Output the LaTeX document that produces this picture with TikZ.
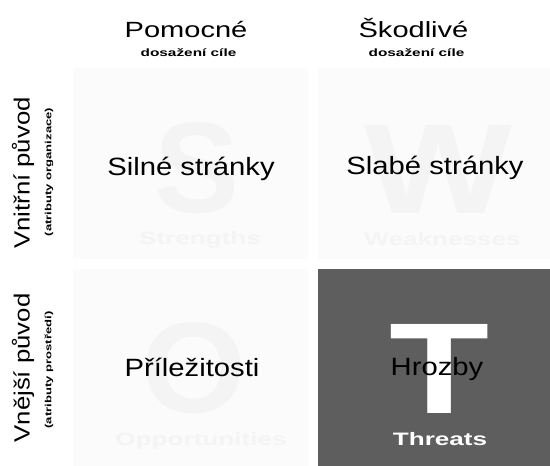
\documentclass[tikz,border=0pt]{standalone}
\usepackage{fontspec}
\usepackage{graphicx}
\setmainfont{Liberation Sans}
\newfontfamily\cellfont[FakeStretch=1.17]{Liberation Sans}
\newfontfamily\headfont[FakeStretch=1.32]{Liberation Sans}
\newfontfamily\notefont[FakeStretch=1.45]{Liberation Sans}
\definecolor{cellbg}{HTML}{FBFBFB}
\definecolor{ghost}{HTML}{F4F4F4}
\definecolor{threatbg}{HTML}{5E5E5E}
\tikzset{
  cell/.style={fill=cellbg, draw=none},
  darkcell/.style={fill=threatbg, draw=none},
  bigletter/.style={inner sep=0pt, anchor=center},
  ghostword/.style={inner sep=0pt, anchor=base, font=\notefont\bfseries\fontsize{18}{20}\selectfont},
  celltext/.style={inner sep=0pt, anchor=base, font=\cellfont\fontsize{25}{30}\selectfont, text=black},
  headtext/.style={inner sep=0pt, anchor=base, font=\headfont\fontsize{22}{26}\selectfont},
  subtext/.style={inner sep=0pt, anchor=base, font=\notefont\bfseries\fontsize{10.6}{12}\selectfont},
  sidetext/.style={inner sep=0pt, anchor=center, rotate=90, font=\cellfont\fontsize{22}{26}\selectfont},
  sidesub/.style={inner sep=0pt, anchor=center, rotate=90, font=\notefont\bfseries\fontsize{9}{11}\selectfont},
}
\begin{document}
\begin{tikzpicture}[x=1pt,y=-1pt]
\useasboundingbox (0,0) rectangle (550,466);
\fill[white] (0,0) rectangle (550,466);

% the four quadrants
\path[cell] (73,68) rectangle (308,259);
\path[cell] (318,68) rectangle (550,259);
\path[cell] (73,269) rectangle (308,466);
\path[darkcell] (318,269) rectangle (550,466);

% large initials with their English words
\node[bigletter, text=ghost] (bigS) at (197.5,168) {\resizebox{85pt}{90pt}{\bfseries S}};
\node[ghostword, text=ghost] (wS) at (200,244) {Strengths};
\node[bigletter, text=ghost] (bigW) at (439,169) {\resizebox{148pt}{88pt}{\bfseries W}};
\node[ghostword, text=ghost] (wW) at (442.5,245) {Weaknesses};
\node[bigletter, text=ghost] (bigO) at (194.5,368) {\resizebox{105pt}{90pt}{\bfseries O}};
\node[ghostword, text=ghost] (wO) at (201,445) {Opportunities};
\node[bigletter, text=white] (bigT) at (440,368.5) {\resizebox{100pt}{89pt}{\bfseries T}};
\node[ghostword, text=white] (wT) at (440,445) {Threats};

% quadrant captions
\node[celltext] (silne) at (191,175) {Silné stránky};
\node[celltext] (slabe) at (435,174) {Slabé stránky};
\node[celltext] (prilez) at (192,376) {Příležitosti};
\node[celltext] (hrozby) at (437,375) {Hrozby};

% column headings
\node[headtext] (pomocne) at (186,37) {Pomocné};
\node[subtext] (pomsub) at (188.5,56) {dosažení cíle};
\node[headtext] (skodlive) at (413.5,37) {Škodlivé};
\node[subtext] (skosub) at (416.5,56) {dosažení cíle};

% row headings
\node[sidetext] (vnitrni) at (23,173) {Vnitřní původ};
\node[sidesub] (vnitrsub) at (49,172) {(atributy organizace)};
\node[sidetext] (vnejsi) at (23,368) {Vnější původ};
\node[sidesub] (vnejsub) at (49,370) {(atributy prostředí)};
\end{tikzpicture}
\end{document}
